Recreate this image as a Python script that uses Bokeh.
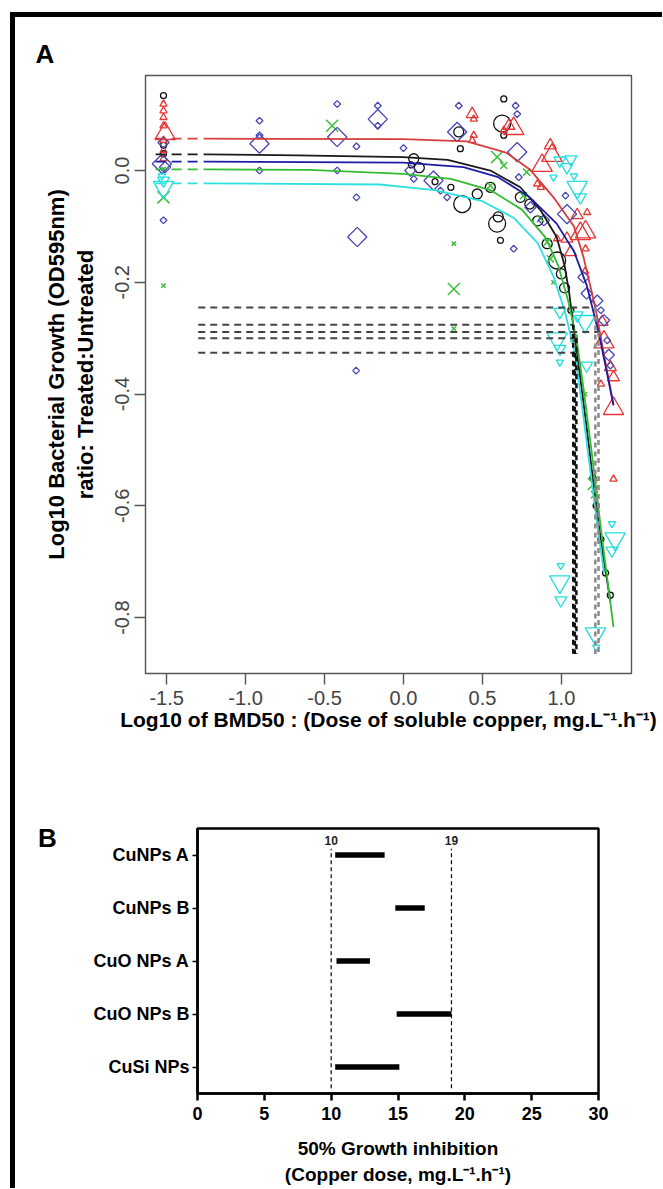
import math
from bokeh.plotting import figure
from bokeh.models import Range1d, FactorRange, FixedTicker, PrintfTickFormatter, Title, Div
from bokeh.layouts import column, row
from bokeh.core.properties import value
from bokeh.embed import file_html
from bokeh.resources import INLINE

FONT = "Liberation Sans"

# ---------------- Panel A data ----------------
x_ticks_a = [-1.5, -1.0, -0.5, 0.0, 0.5, 1.0]
y_ticks_a = [0.0, -0.2, -0.4, -0.6, -0.8]

# size class: 1 small, 2 medium, 3 large
black_x = [-1.52, -1.52, -1.52, 0.065, 0.05, 0.10, 0.20, 0.30, 0.35, 0.36, 0.372, 0.467, 0.55, 0.593, 0.60, 0.614,
           0.635, 0.625, 0.635, 0.74, 0.80, 0.85, 0.91, 0.973, 1.0, 1.02, 1.06, 1.08, 1.10, 1.20, 1.22, 1.25, 1.28, 1.31]
black_y = [0.134, 0.030, 0.045, 0.021, 0.010, 0.005, -0.020, -0.030, 0.069, 0.039, -0.060, -0.042, -0.030, -0.095, -0.083, -0.125,
           0.128, 0.084, 0.063, -0.048, -0.060, -0.090, -0.131, -0.161, -0.185, -0.210, -0.250, -0.300, -0.360, -0.550, -0.600, -0.660, -0.720, -0.760]
black_s = [1, 1, 1, 2, 1, 2, 1, 1, 2, 1, 3, 2, 2, 3, 2, 1,
           1, 3, 1, 2, 2, 2, 2, 3, 2, 2, 1, 1, 1, 1, 1, 1, 1, 1]

red_x = [-1.52, -1.52, -1.52, -1.52, -1.51, -1.52, -1.52, -1.52, 0.435, 0.445, 0.445, 0.667, 0.698, 0.635, 0.435,
         0.93, 0.94, 0.878, 0.847, 0.87, 0.973, 1.035, 1.058, 1.12, 1.10, 1.163, 1.153, 1.153, 1.15,
         1.258, 1.27, 1.31, 1.33, 1.25, 1.33, 1.33]
red_y = [0.119, 0.107, 0.095, 0.080, 0.066, 0.054, 0.036, 0.021, 0.101, 0.092, 0.063, 0.080, 0.075, 0.072, 0.054,
         0.045, 0.027, 0.009, -0.024, -0.030, -0.122, -0.122, -0.146, -0.113, -0.080, -0.075, -0.110, -0.140, -0.180,
         -0.271, -0.307, -0.352, -0.370, -0.382, -0.426, -0.552]
red_s = [1, 1, 1, 1, 3, 1, 1, 1, 2, 1, 1, 2, 3, 1, 1,
         2, 3, 3, 1, 1, 1, 2, 2, 3, 2, 1, 3, 1, 1,
         2, 3, 2, 2, 1, 3, 1]

green_x = [-1.52, -1.52, -1.52, -0.452, 0.319, 0.319, 0.319, 0.593, 0.635, 0.55, 0.78, 0.76, 0.868, 0.91, 0.93,
           0.95, 1.08, 1.15, 1.205, 1.21]
green_y = [0.003, -0.048, -0.206, 0.080, -0.131, -0.212, -0.283, 0.024, 0.009, -0.027, -0.003, -0.045, -0.086, -0.128, -0.158,
           -0.200, -0.300, -0.400, -0.561, -0.580]
green_s = [1, 3, 1, 3, 1, 3, 1, 3, 2, 2, 2, 2, 2, 2, 2,
           1, 2, 1, 3, 2]

blue_x = [-1.53, -1.51, -1.52, -1.52, -0.912, -0.912, -0.912, -0.912, -0.42, -0.42, -0.42, -0.298, -0.163, -0.163, -0.163,
          -0.298, -0.293, -0.30, 0.35, 0.34, 0.71, 0.72, 0.72, 0.044, 0.065, 0.19, 0.234, 0.276, 0.0, 0.73, 0.804,
          0.889, 0.698, 1.026, 1.036, 1.14, 1.16, 1.227, 1.27, 1.29, 1.31, 1.25, 1.30]
blue_y = [0.012, 0.006, -0.089, 0.050, 0.089, 0.048, 0.063, 0.000, 0.119, 0.060, 0.000, 0.043, 0.116, 0.092, 0.080,
          -0.048, -0.119, -0.358, 0.116, 0.069, 0.116, 0.101, 0.033, 0.000, -0.015, -0.018, -0.036, -0.048, 0.040, -0.012, -0.066,
          -0.089, -0.140, -0.045, -0.078, -0.191, -0.220, -0.233, -0.268, -0.304, -0.349, -0.250, -0.330]
blue_s = [3, 2, 1, 2, 1, 3, 1, 1, 1, 3, 1, 1, 1, 3, 1,
          1, 3, 1, 1, 3, 1, 1, 3, 2, 1, 3, 1, 1, 1, 1, 2,
          2, 1, 1, 3, 2, 2, 2, 2, 1, 1, 1, 2]

cyan_x = [-1.52, -1.52, -1.53, 0.99, 1.035, 1.10, 1.12, 0.95, 1.08, 1.06,
          0.99, 1.10, 0.973, 0.99, 0.99, 1.16, 1.15, 1.32, 1.34, 1.32, 0.996, 0.99, 0.996, 1.216, 1.22]
cyan_y = [-0.018, -0.030, -0.010, 0.018, 0.006, -0.030, -0.048, -0.012, -0.010, 0.020,
          -0.253, -0.259, -0.301, -0.319, -0.343, -0.349, -0.270, -0.632, -0.659, -0.680, -0.707, -0.736, -0.769, -0.829, -0.853]
cyan_s = [2, 3, 1, 2, 2, 3, 2, 1, 1, 2,
          2, 2, 3, 2, 1, 2, 3, 1, 3, 2, 1, 3, 2, 3, 1]

# fitted curves (first segment is the dashed break segment)
red_cx = [-1.57, -1.25, 0.0, 0.4, 0.65, 0.8, 0.95, 1.08, 1.14, 1.19, 1.215, 1.27, 1.33]
red_cy = [0.057, 0.057, 0.056, 0.052, 0.032, 0.002, -0.048, -0.100, -0.155, -0.215, -0.245, -0.330, -0.420]
black_cx = [-1.57, -1.25, -0.67, 0.0, 0.28, 0.55, 0.74, 0.87, 0.97, 1.02, 1.05, 1.075, 1.11, 1.16, 1.22, 1.27, 1.31]
black_cy = [0.029, 0.029, 0.027, 0.024, 0.019, 0.000, -0.030, -0.072, -0.119, -0.170, -0.220, -0.276, -0.350, -0.460, -0.600, -0.700, -0.770]
blue_cx = [-1.57, -1.25, 0.0, 0.38, 0.6, 0.8, 0.97, 1.08, 1.16, 1.235, 1.28, 1.33]
blue_cy = [0.016, 0.016, 0.014, 0.006, -0.012, -0.048, -0.095, -0.145, -0.205, -0.289, -0.350, -0.420]
green_cx = [-1.57, -1.25, -0.6, 0.0, 0.3, 0.55, 0.75, 0.9, 0.98, 1.04, 1.095, 1.14, 1.19, 1.25, 1.29, 1.33]
green_cy = [0.002, 0.002, 0.001, -0.006, -0.015, -0.035, -0.070, -0.120, -0.170, -0.230, -0.300, -0.390, -0.500, -0.640, -0.730, -0.817]
cyan_cx = [-1.57, -1.25, -0.15, 0.2, 0.5, 0.7, 0.85, 0.95, 1.02, 1.085, 1.13, 1.18, 1.23, 1.27]
cyan_cy = [-0.023, -0.023, -0.025, -0.035, -0.055, -0.085, -0.130, -0.190, -0.250, -0.326, -0.420, -0.530, -0.640, -0.720]

# BMD50 reference lines (level = top - log10(2)), ED x positions
ed_level = [-0.245, -0.276, -0.289, -0.300, -0.326]
ed_x = [1.215, 1.075, 1.235, 1.095, 1.085]
ed_start = -1.30
ed_bottom = -0.865

# ---------------- Panel B data ----------------
cats = ["CuNPs A", "CuNPs B", "CuO NPs A", "CuO NPs B", "CuSi NPs"]
lo = [10.3, 14.8, 10.4, 14.9, 10.3]
hi = [14.0, 17.0, 12.9, 19.0, 15.1]
ref_lines = [10, 19]
x_ticks_b = [0, 5, 10, 15, 20, 25, 30]

SUP = "mg.L\u207b\u00b9.h\u207b\u00b9"

# ---------------- Panel A figure ----------------
pa = figure(width=647, height=726, x_range=Range1d(-1.634, 1.444), y_range=Range1d(-0.900, 0.170),
            output_backend="svg", toolbar_location=None,
            min_border_left=130, min_border_right=31, min_border_top=58, min_border_bottom=70)
pa.grid.visible = False
pa.outline_line_color = "#555555"
pa.outline_line_width = 1.4
for ax in (pa.xaxis, pa.yaxis):
    ax.axis_line_color = None
    ax.major_tick_out = 11
    ax.major_tick_in = 0
    ax.minor_tick_out = 0
    ax.minor_tick_in = 0
    ax.major_tick_line_color = "#555555"
    ax.major_tick_line_width = 1.4
    ax.major_label_text_font = FONT
    ax.major_label_text_font_size = "20px"
    ax.major_label_text_color = "#444444"
    ax.formatter = PrintfTickFormatter(format="%.1f")
    ax.axis_label_text_font = FONT
    ax.axis_label_text_font_style = "bold"
    ax.axis_label_text_color = "black"
pa.xaxis.ticker = FixedTicker(ticks=x_ticks_a)
pa.yaxis.ticker = FixedTicker(ticks=y_ticks_a)
pa.xaxis.major_label_standoff = 6
pa.yaxis.major_label_standoff = 5
pa.yaxis.major_label_orientation = "vertical"
pa.xaxis.axis_label = "Log10 of BMD50 : (Dose of soluble copper, " + SUP + ")"
pa.xaxis.axis_label_text_font_size = "21px"
pa.xaxis.axis_label_standoff = 0
pa.yaxis.axis_label = "ratio: Treated:Untreated"
pa.yaxis.axis_label_text_font_size = "22px"
pa.yaxis.axis_label_standoff = 15
pa.add_layout(Title(text="Log10 Bacterial Growth (OD595nm)", align="center", standoff=2,
                    text_font=FONT, text_font_size="22px", text_font_style="bold",
                    text_color="black"), "left")
pa.title.text = "A"
pa.title.align = "left"
pa.title.offset = -110
pa.title.standoff = 13
pa.title.text_font = FONT
pa.title.text_font_size = "26px"
pa.title.text_font_style = "bold"
pa.title.text_color = "black"

SZ = {1: 6, 2: 10, 3: 17}
lw = 1.3
pa.scatter(black_x, black_y, marker="circle", size=[SZ[s] for s in black_s], fill_color=None,
           line_color="#111111", line_width=lw)
pa.scatter(red_x, red_y, marker="triangle", size=[SZ[s] * 1.2 for s in red_s], fill_color=None,
           line_color="#e53535", line_width=lw)
pa.scatter(green_x, green_y, marker="x", size=[SZ[s] for s in green_s],
           line_color="#3cbe3c", line_width=1.5)
pa.scatter(blue_x, blue_y, marker="square", angle=math.pi / 4, size=[SZ[s] * 0.8 for s in blue_s],
           fill_color=None, line_color="#4646b4", line_width=lw)
pa.scatter(cyan_x, cyan_y, marker="inverted_triangle", size=[SZ[s] * 1.2 for s in cyan_s], fill_color=None,
           line_color="#22dede", line_width=lw)

curves = [(red_cx, red_cy, "#d83c3c"), (black_cx, black_cy, "#1a1a1a"), (blue_cx, blue_cy, "#1c1ca6"),
          (green_cx, green_cy, "#33bb33"), (cyan_cx, cyan_cy, "#2fe0e0")]
for cx, cy, col in curves:
    pa.line(cx[:2], cy[:2], line_color=col, line_width=1.8, line_dash="10 6")
    pa.line(cx[1:], cy[1:], line_color=col, line_width=1.8)

ed_cols = ["#8a8a8a", "#111111", "#8a8a8a", "#111111", "#111111"]
pa.segment(x0=[ed_start] * len(ed_x), y0=ed_level, x1=ed_x, y1=ed_level,
           line_color="#444444", line_width=2, line_dash="7 5")
pa.segment(x0=ed_x, y0=ed_level, x1=ed_x, y1=[ed_bottom] * len(ed_x),
           line_color=ed_cols, line_width=2.5, line_dash="5 4")

# ---------------- Panel B figure ----------------
pb = figure(width=587, height=445, x_range=Range1d(0, 30), y_range=FactorRange(factors=cats[::-1]),
            output_backend="svg", toolbar_location=None,
            min_border_left=122, min_border_right=64, min_border_top=85, min_border_bottom=95)
pb.grid.visible = False
pb.outline_line_color = "black"
pb.outline_line_width = 2.5
pb.xaxis.ticker = FixedTicker(ticks=x_ticks_b)
for ax in (pb.xaxis, pb.yaxis):
    ax.axis_line_color = "black"
    ax.axis_line_width = 2.5
    ax.major_tick_in = 0
    ax.minor_tick_out = 0
    ax.minor_tick_in = 0
    ax.major_tick_line_color = "black"
    ax.major_label_text_font = FONT
    ax.major_label_text_font_size = "18px"
    ax.major_label_text_font_style = "bold"
    ax.major_label_text_color = "black"
pb.xaxis.major_tick_out = 7
pb.xaxis.major_tick_line_width = 2.5
pb.xaxis.major_label_standoff = 6
pb.yaxis.major_tick_out = 5
pb.yaxis.major_tick_line_width = 1.5
pb.yaxis.major_label_standoff = 3
pb.xaxis.axis_label = "50% Growth inhibition"
pb.xaxis.axis_label_text_font = FONT
pb.xaxis.axis_label_text_font_size = "19px"
pb.xaxis.axis_label_text_font_style = "bold"
pb.xaxis.axis_label_text_color = "black"
pb.xaxis.axis_label_standoff = 15
pb.add_layout(Title(text="(Copper dose, " + SUP + ")", align="center", standoff=1,
                    text_font=FONT, text_font_size="19px", text_font_style="bold",
                    text_color="black"), "below")

pb.segment(x0=ref_lines, y0=[0.1] * 2, x1=ref_lines, y1=[4.62] * 2, line_color="black",
           line_width=1.2, line_dash="4 3")
pb.text(x=ref_lines, y=[4.77] * 2, text=[str(v) for v in ref_lines], text_align="center",
        text_baseline="middle", text_font=value(FONT), text_font_size="12px",
        text_font_style="bold", text_color="#222222")
pb.segment(x0=lo, y0=cats, x1=hi, y1=cats, line_color="black", line_width=5.5)

div_b = Div(text='<div style="padding-left:23px;padding-top:82px;font-family:\'Liberation Sans\';'
                 'font-size:26px;font-weight:bold;line-height:26px;color:black;">B</div>',
            width=60, height=445, margin=0)

top_bar = Div(text="", width=652, height=5, margin=(12, 0, 0, 10), styles={"background-color": "black"})
left_bar = Div(text="", width=5, height=1171, margin=(0, 0, 0, 10), styles={"background-color": "black"})

layout = column(top_bar,
                row(left_bar,
                    column(pa, row(div_b, pb, spacing=0, margin=0), spacing=0, margin=0),
                    spacing=0, margin=0),
                spacing=0, margin=0)

open("out.html", "w").write(file_html(layout, INLINE))
